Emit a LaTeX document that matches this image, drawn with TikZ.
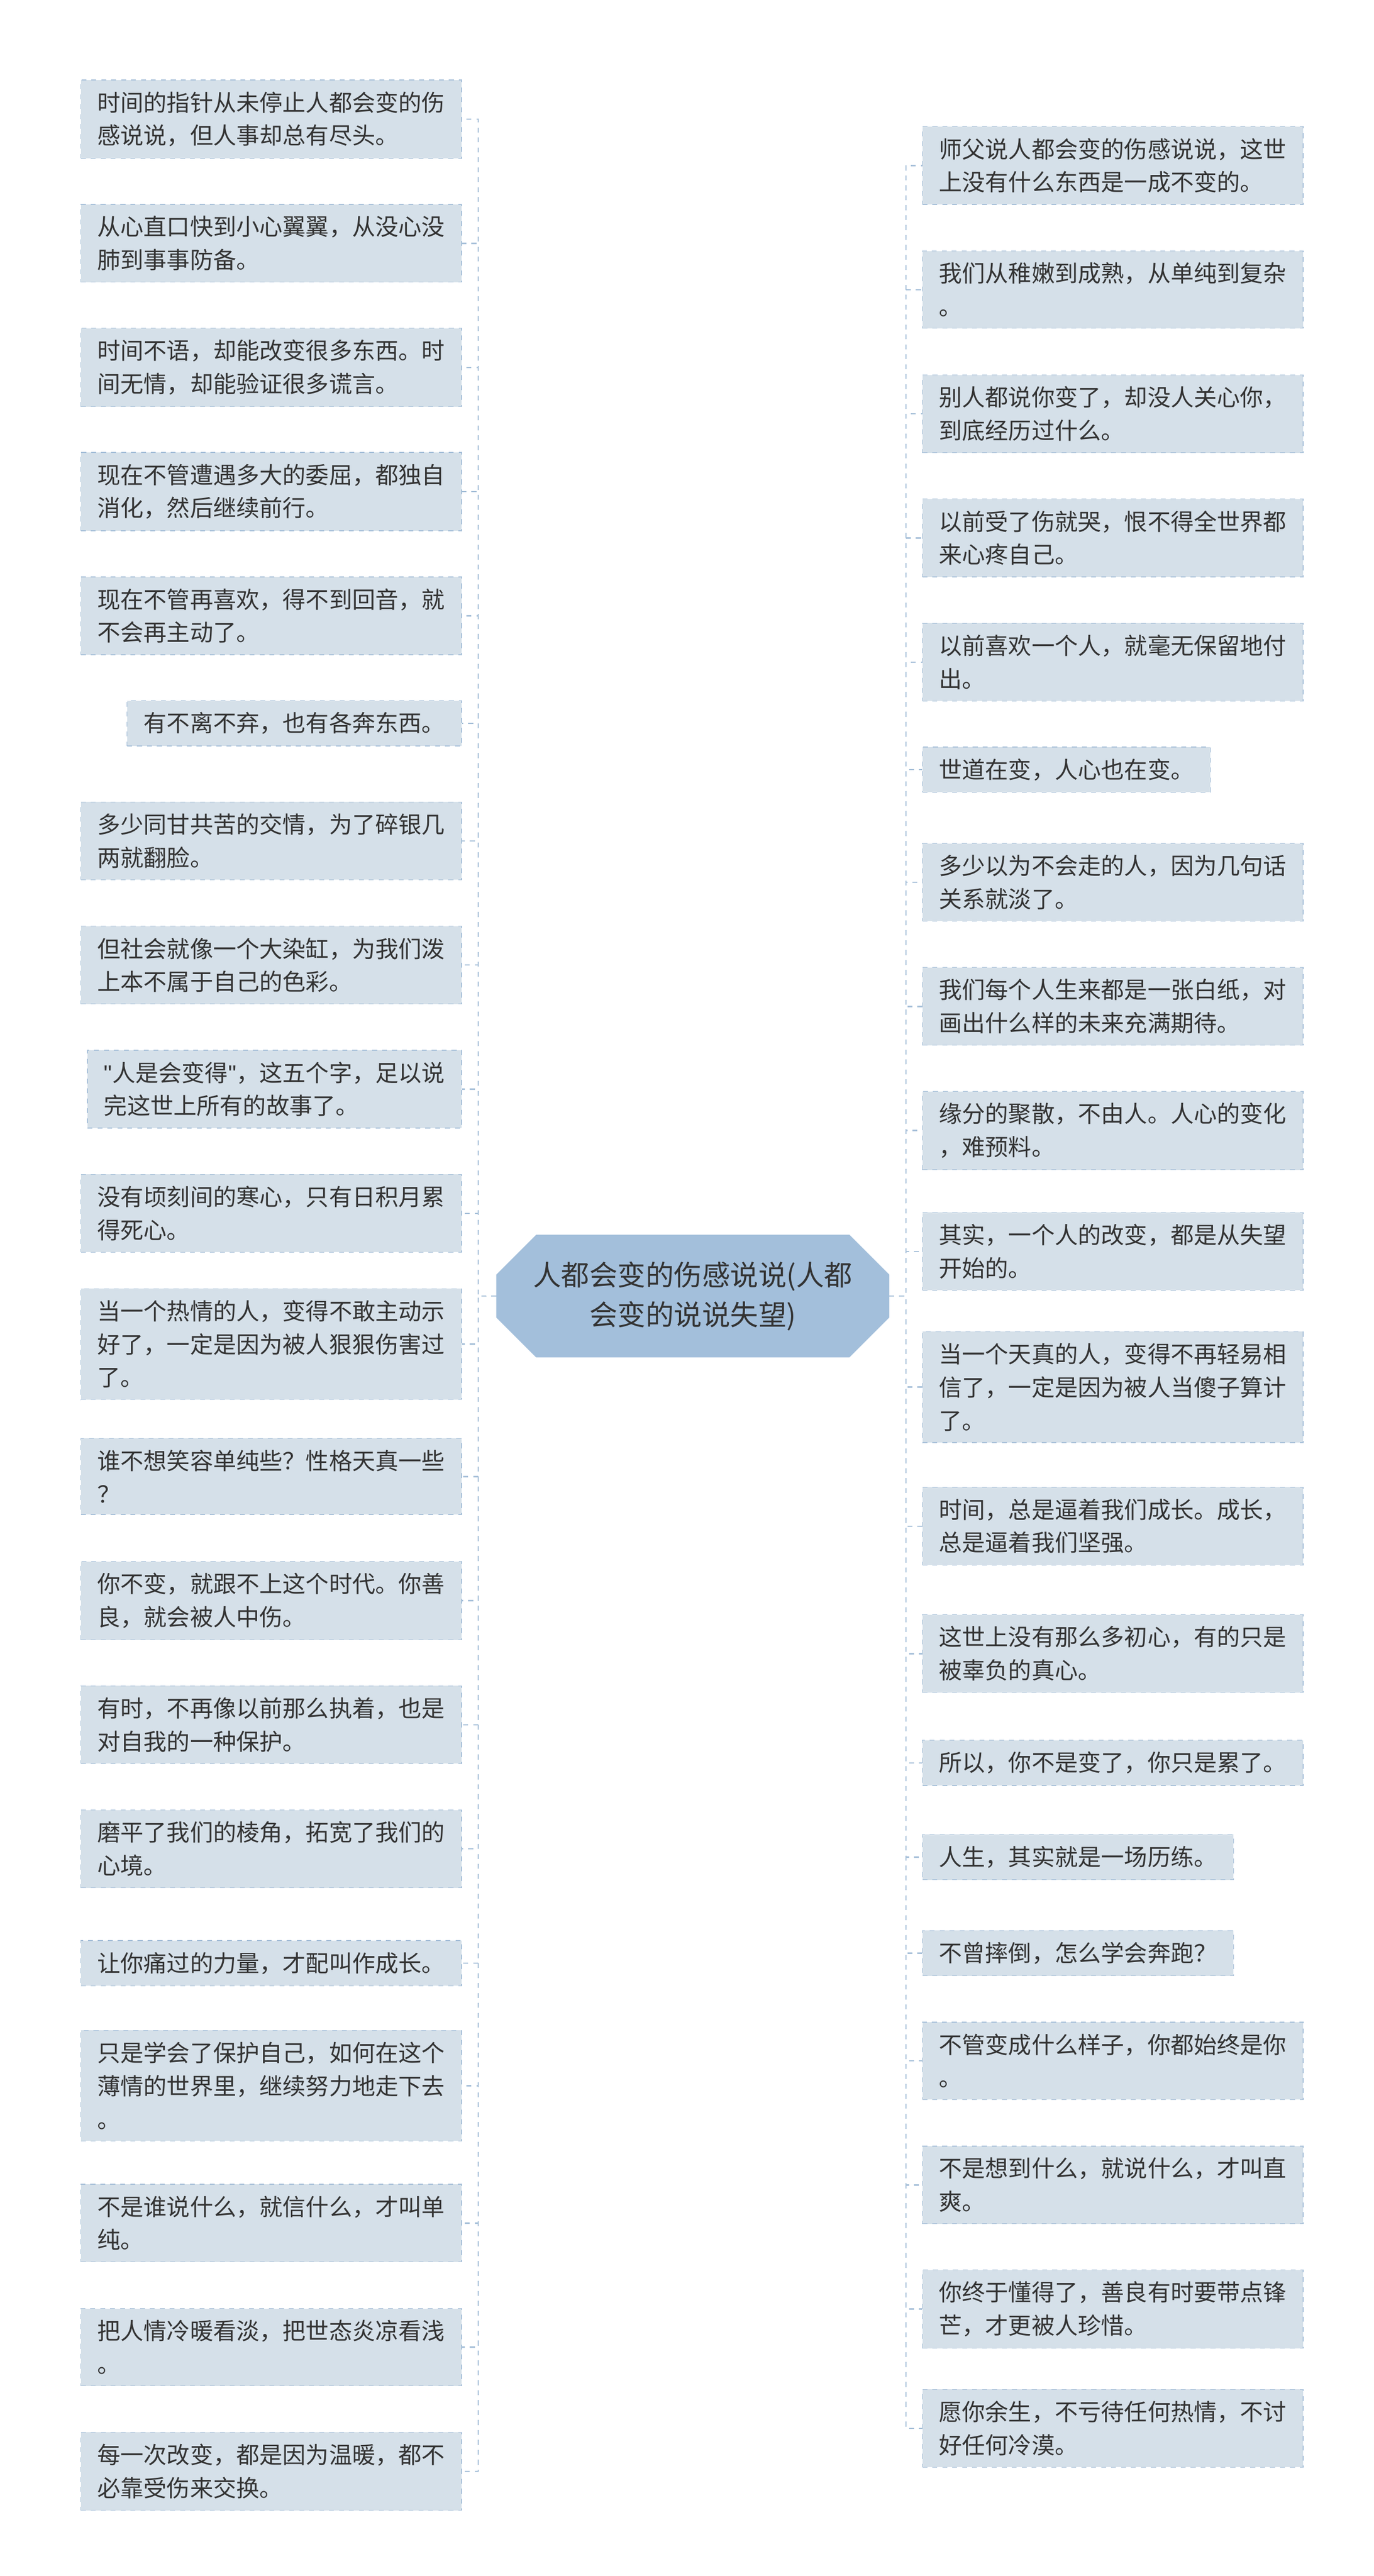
\documentclass[tikz,border=0pt]{standalone}
\usepackage{fontspec}
\setmainfont{Noto Sans CJK SC}
\newfontfamily\latinq{Liberation Sans}
\usetikzlibrary{shapes.misc}
\definecolor{boxfill}{HTML}{D5E0E9}
\definecolor{boxline}{HTML}{A7C0D9}
\definecolor{cfill}{HTML}{A3BFDB}
\definecolor{txt}{HTML}{333333}
\tikzset{
 leaf/.style={draw=boxline,dashed,fill=boxfill,align=left,text=txt,font=\fontsize{14}{20}\selectfont,inner xsep=10pt,inner ysep=7pt},
 lleaf/.style={leaf,anchor=east},
 rleaf/.style={leaf,anchor=west},
 conn/.style={draw=boxline,dashed,line width=0.8pt}
}
\begin{document}
\begin{tikzpicture}[x=1pt,y=-1pt]
\useasboundingbox[fill=white] (0,0) rectangle (830,1556.25);
\node[chamfered rectangle,chamfered rectangle xsep=10pt,chamfered rectangle ysep=14pt,fill=cfill,draw=cfill,text=txt,align=center,font=\fontsize{17}{24}\selectfont,minimum width=237pt,minimum height=72pt,inner sep=2pt] (c) at (418.5,783) {人都会变的伤感说说(人都\\会变的说说失望)};
\node[lleaf] (l1) at (279,72) {时间的指针从未停止人都会变的伤\\感说说，但人事却总有尽头。};
\node[lleaf] (l2) at (279,147) {从心直口快到小心翼翼，从没心没\\肺到事事防备。};
\node[lleaf] (l3) at (279,222) {时间不语，却能改变很多东西。时\\间无情，却能验证很多谎言。};
\node[lleaf] (l4) at (279,297) {现在不管遭遇多大的委屈，都独自\\消化，然后继续前行。};
\node[lleaf] (l5) at (279,372) {现在不管再喜欢，得不到回音，就\\不会再主动了。};
\node[lleaf] (l6) at (279,437) {有不离不弃，也有各奔东西。};
\node[lleaf] (l7) at (279,508) {多少同甘共苦的交情，为了碎银几\\两就翻脸。};
\node[lleaf] (l8) at (279,583) {但社会就像一个大染缸，为我们泼\\上本不属于自己的色彩。};
\node[lleaf] (l9) at (279,658) {{\latinq"}人是会变得{\latinq"}，这五个字，足以说\\完这世上所有的故事了。};
\node[lleaf] (l10) at (279,733) {没有顷刻间的寒心，只有日积月累\\得死心。};
\node[lleaf] (l11) at (279,812) {当一个热情的人，变得不敢主动示\\好了，一定是因为被人狠狠伤害过\\了。};
\node[lleaf] (l12) at (279,892) {谁不想笑容单纯些？性格天真一些\\？};
\node[lleaf] (l13) at (279,967) {你不变，就跟不上这个时代。你善\\良，就会被人中伤。};
\node[lleaf] (l14) at (279,1042) {有时，不再像以前那么执着，也是\\对自我的一种保护。};
\node[lleaf] (l15) at (279,1117) {磨平了我们的棱角，拓宽了我们的\\心境。};
\node[lleaf] (l16) at (279,1186) {让你痛过的力量，才配叫作成长。};
\node[lleaf] (l17) at (279,1260) {只是学会了保护自己，如何在这个\\薄情的世界里，继续努力地走下去\\。};
\node[lleaf] (l18) at (279,1343) {不是谁说什么，就信什么，才叫单\\纯。};
\node[lleaf] (l19) at (279,1418) {把人情冷暖看淡，把世态炎凉看浅\\。};
\node[lleaf] (l20) at (279,1493) {每一次改变，都是因为温暖，都不\\必靠受伤来交换。};
\node[rleaf] (r1) at (557,100) {师父说人都会变的伤感说说，这世\\上没有什么东西是一成不变的。};
\node[rleaf] (r2) at (557,175) {我们从稚嫩到成熟，从单纯到复杂\\。};
\node[rleaf] (r3) at (557,250) {别人都说你变了，却没人关心你，\\到底经历过什么。};
\node[rleaf] (r4) at (557,325) {以前受了伤就哭，恨不得全世界都\\来心疼自己。};
\node[rleaf] (r5) at (557,400) {以前喜欢一个人，就毫无保留地付\\出。};
\node[rleaf] (r6) at (557,465) {世道在变，人心也在变。};
\node[rleaf] (r7) at (557,533) {多少以为不会走的人，因为几句话\\关系就淡了。};
\node[rleaf] (r8) at (557,608) {我们每个人生来都是一张白纸，对\\画出什么样的未来充满期待。};
\node[rleaf] (r9) at (557,683) {缘分的聚散，不由人。人心的变化\\，难预料。};
\node[rleaf] (r10) at (557,756) {其实，一个人的改变，都是从失望\\开始的。};
\node[rleaf] (r11) at (557,838) {当一个天真的人，变得不再轻易相\\信了，一定是因为被人当傻子算计\\了。};
\node[rleaf] (r12) at (557,922) {时间，总是逼着我们成长。成长，\\总是逼着我们坚强。};
\node[rleaf] (r13) at (557,999) {这世上没有那么多初心，有的只是\\被辜负的真心。};
\node[rleaf] (r14) at (557,1065) {所以，你不是变了，你只是累了。};
\node[rleaf] (r15) at (557,1122) {人生，其实就是一场历练。};
\node[rleaf] (r16) at (557,1180) {不曾摔倒，怎么学会奔跑？};
\node[rleaf] (r17) at (557,1245) {不管变成什么样子，你都始终是你\\。};
\node[rleaf] (r18) at (557,1320) {不是想到什么，就说什么，才叫直\\爽。};
\node[rleaf] (r19) at (557,1395) {你终于懂得了，善良有时要带点锋\\芒，才更被人珍惜。};
\node[rleaf] (r20) at (557,1467) {愿你余生，不亏待任何热情，不讨\\好任何冷漠。};
\foreach \i in {1,...,20}{
 \draw[conn] (c.west) -- ++(-11,0) |- (l\i.east);
 \draw[conn] (c.east) -- ++(10,0) |- (r\i.west);
}
\end{tikzpicture}
\end{document}
